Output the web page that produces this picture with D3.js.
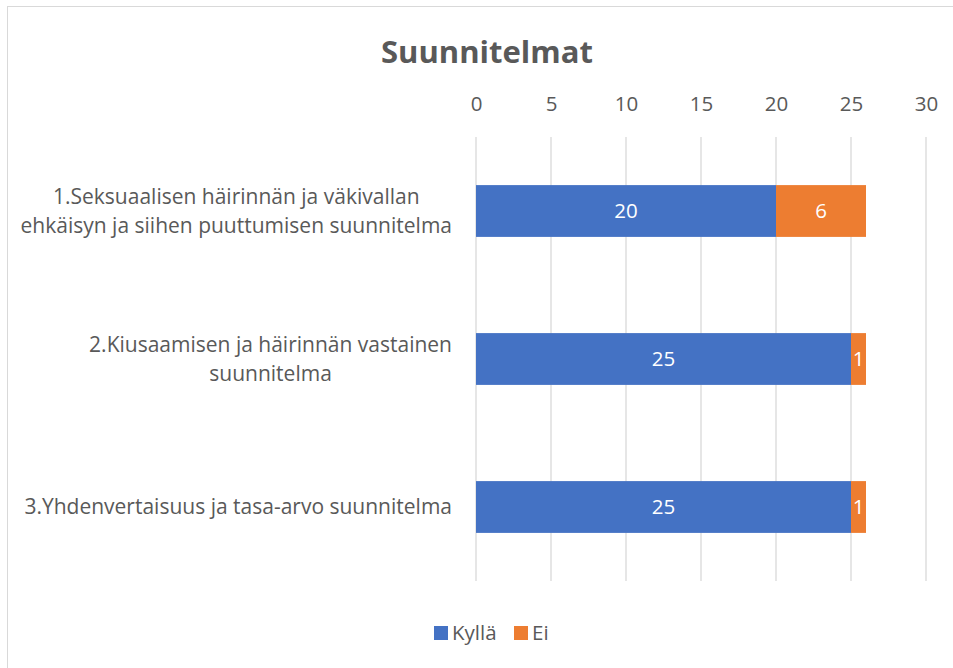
<!DOCTYPE html>
<meta charset="utf-8">
<style>
body { margin: 0; background: #fff; }
text { font-family: "Open Sans", "Noto Sans", sans-serif; }
</style>
<svg width="953" height="668"></svg>
<script src="https://d3js.org/d3.v7.min.js"></script>
<script>

// data
var categories = [
  ["1.Seksuaalisen häirinnän ja väkivallan", "ehkäisyn ja siihen puuttumisen suunnitelma"],
  ["2.Kiusaamisen ja häirinnän vastainen", "suunnitelma"],
  ["3.Yhdenvertaisuus ja tasa-arvo suunnitelma"]
];
var kylla = [20, 25, 25];
var ei = [6, 1, 1];
var seriesNames = ["Kyllä", "Ei"];
var ticks = [0, 5, 10, 15, 20, 25, 30];

var svg = d3.select("svg");
var colors = ["#4472C4", "#ED7D31"];
var textColor = "#595959";
var fs = 20.5;

// chart border
svg.append("rect")
    .attr("x", 7.5).attr("y", 6.5)
    .attr("width", 960).attr("height", 680)
    .attr("fill", "#fff")
    .attr("stroke", "#d9d9d9");

// title
svg.append("text")
    .attr("x", 487).attr("y", 52)
    .attr("dy", "0.35em")
    .attr("text-anchor", "middle")
    .attr("font-size", 31).attr("font-weight", "bold")
    .attr("fill", textColor)
    .text("Suunnitelmat");

var x = d3.scaleLinear().domain([0, 30]).range([476, 926]);
var y = d3.scaleBand().domain(d3.range(categories.length))
    .range([137, 581]).paddingInner(0.65).paddingOuter(0.325);

// grid
svg.append("g").selectAll("line").data(ticks).enter().append("line")
    .attr("x1", d => x(d)).attr("x2", d => x(d))
    .attr("y1", 137).attr("y2", 581)
    .attr("stroke", "#d9d9d9").attr("stroke-width", 1.3);

// top axis
var axis = svg.append("g")
    .attr("transform", "translate(0,104)")
    .call(d3.axisTop(x).tickValues(ticks).tickSize(0).tickPadding(0));
axis.select(".domain").remove();
axis.selectAll("text")
    .attr("y", 0).attr("dy", "0.35em")
    .attr("font-size", fs)
    .attr("fill", textColor)
    .style("font-family", "'Open Sans', sans-serif");

// stacked bars
var rows = categories.map((c, i) => ({ i: i, vals: [kylla[i], ei[i]] }));
rows.forEach(function(r) {
  var x0 = 0;
  r.vals.forEach(function(v, s) {
    svg.append("rect")
        .attr("x", x(x0)).attr("y", y(r.i))
        .attr("width", x(x0 + v) - x(x0)).attr("height", y.bandwidth())
        .attr("fill", colors[s]);
    svg.append("text")
        .attr("x", (x(x0) + x(x0 + v)) / 2)
        .attr("y", y(r.i) + y.bandwidth() / 2)
        .attr("dy", "0.35em")
        .attr("text-anchor", "middle")
        .attr("font-size", fs).attr("fill", "#fff")
        .text(v);
    x0 += v;
  });
});

// category labels: lines centred within a block right-aligned at the axis
categories.forEach(function(lines, i) {
  var cy = y(i) + y.bandwidth() / 2;
  var t = svg.append("text")
      .attr("text-anchor", "middle")
      .attr("font-size", 21).attr("fill", textColor);
  var spans = lines.map(function(l, k) {
    return t.append("tspan")
        .attr("y", cy + (k - (lines.length - 1) / 2) * 29)
        .attr("dy", "0.35em")
        .text(l);
  });
  var w = d3.max(spans, s => s.node().getComputedTextLength());
  spans.forEach(s => s.attr("x", 452 - w / 2));
});

// legend
var legend = svg.append("g");
var lx = [434, 514];
seriesNames.forEach(function(n, i) {
  legend.append("rect")
      .attr("x", lx[i]).attr("y", 626)
      .attr("width", 14).attr("height", 14)
      .attr("fill", colors[i]);
  legend.append("text")
      .attr("x", lx[i] + 18).attr("y", 633)
      .attr("dy", "0.35em")
      .attr("font-size", fs).attr("fill", textColor)
      .text(n);
});

</script>
